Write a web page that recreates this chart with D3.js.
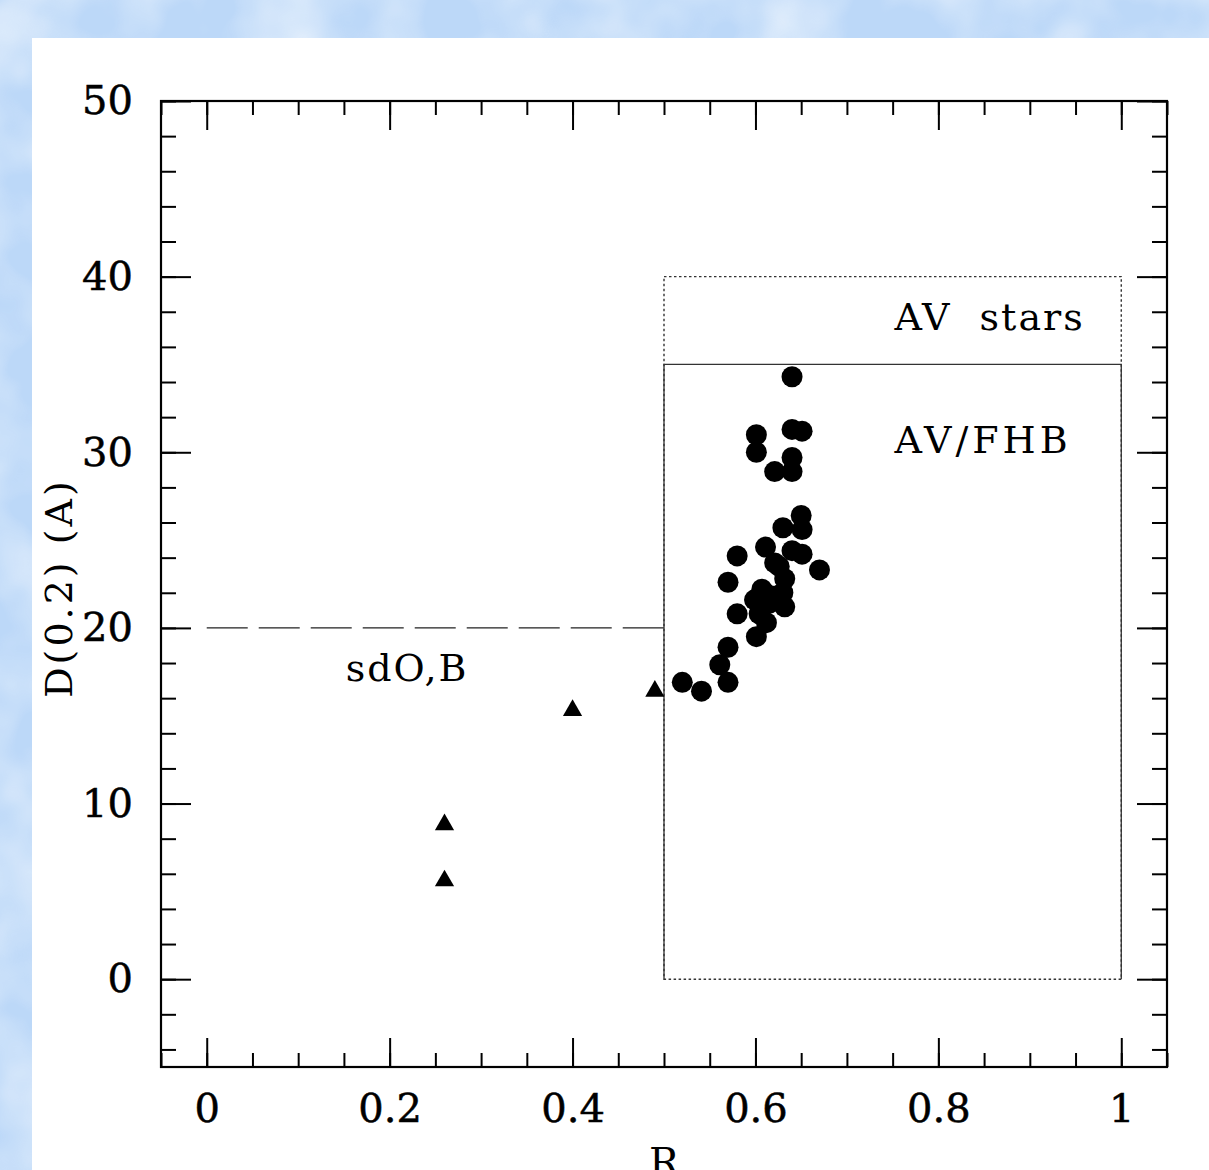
<!DOCTYPE html>
<html>
<head>
<meta charset="utf-8">
<script src="https://cdn.jsdelivr.net/npm/d3@7"></script>
<style>
  body { margin: 0; }
  svg { display: block; }
</style>
</head>
<body>
<div id="content"></div>
<script>
// Data: AV/FHB stars (filled circles).
var circleR = [0.640, 0.601, 0.601, 0.640, 0.651, 0.640, 0.621, 0.640,
               0.650, 0.651, 0.630, 0.580, 0.611, 0.640, 0.651, 0.670,
               0.621, 0.626, 0.632, 0.570, 0.607, 0.630, 0.599, 0.615,
               0.632, 0.580, 0.604, 0.612, 0.601, 0.570, 0.561, 0.570,
               0.520, 0.541, 0.620, 0.610];
var circleD = [34.3, 31.0, 30.0, 31.3, 31.2, 29.7, 28.9, 28.9,
               26.4, 25.6, 25.7, 24.1, 24.6, 24.4, 24.2, 23.3,
               23.7, 23.5, 22.8, 22.6, 22.2, 22.0, 21.6, 21.4,
               21.2, 20.8, 20.8, 20.3, 19.5, 18.9, 17.9, 16.9,
               16.9, 16.4, 21.8, 22.0];

// sdO,B stars (filled triangles).
var triR = [0.26, 0.26, 0.40, 0.49];
var triD = [8.8, 5.6, 15.3, 16.4];

// Axis ticks.
var xTicks = [0, 0.2, 0.4, 0.6, 0.8, 1];
var yTicks = [0, 10, 20, 30, 40, 50];
var xMinor = d3.range(-0.05, 1.0501, 0.05);
var yMinor = d3.range(-4, 50.01, 2);

var W = 1209, H = 1170;
var font = '"DejaVu Serif", serif';

var svg = d3.select('#content').append('svg')
    .attr('width', W).attr('height', H);

// Cloudy light-blue page background.
var defs = svg.append('defs');
var f = defs.append('filter').attr('id', 'clouds')
    .attr('x', 0).attr('y', 0).attr('width', '100%').attr('height', '100%');
f.append('feTurbulence').attr('type', 'fractalNoise')
    .attr('baseFrequency', 0.012).attr('numOctaves', 3).attr('seed', 4);
f.append('feColorMatrix').attr('type', 'matrix')
    .attr('values', '0 0 0 0 1  0 0 0 0 1  0 0 0 0 1  1.3 0 0 0 -0.45');

svg.append('rect').attr('width', W).attr('height', H).attr('fill', '#bcd8f8');
svg.append('rect').attr('width', W).attr('height', H)
    .attr('filter', 'url(#clouds)').attr('opacity', 0.8);

// White panel.
svg.append('rect').attr('x', 32).attr('y', 38)
    .attr('width', W - 32).attr('height', H - 38).attr('fill', '#fff');

// Scales.
var x = d3.scaleLinear().domain([-0.05, 1.05]).range([161, 1167]);
var y = d3.scaleLinear().domain([-5, 50]).range([1067, 101]);

var g = svg.append('g');

// Region boxes.
g.append('rect')
    .attr('x', x(0.5)).attr('y', y(40))
    .attr('width', x(1) - x(0.5)).attr('height', y(0) - y(40))
    .attr('fill', 'none').attr('stroke', '#333')
    .attr('stroke-width', 1.4).attr('stroke-dasharray', '2.5,2.5');
g.append('path')
    .attr('d', d3.line()([[x(0.5), y(0)], [x(0.5), y(35)], [x(1), y(35)], [x(1), y(0)]]))
    .attr('fill', 'none').attr('stroke', '#333').attr('stroke-width', 1.3);

// Dashed divider at D = 20.
g.append('line')
    .attr('x1', x(0)).attr('x2', x(0.5))
    .attr('y1', y(20)).attr('y2', y(20))
    .attr('stroke', '#222').attr('stroke-width', 1.3)
    .attr('stroke-dasharray', '41,11');

// Points.
g.selectAll('circle.av')
    .data(d3.range(circleR.length))
    .enter().append('circle')
    .attr('class', 'av')
    .attr('cx', function(i) { return x(circleR[i]); })
    .attr('cy', function(i) { return y(circleD[i]); })
    .attr('r', 10.5)
    .attr('fill', '#000');

g.selectAll('path.sd')
    .data(d3.range(triR.length))
    .enter().append('path')
    .attr('class', 'sd')
    .attr('d', d3.symbol(d3.symbolTriangle, 160))
    .attr('transform', function(i) {
      return 'translate(' + x(triR[i]) + ',' + y(triD[i]) + ')';
    })
    .attr('fill', '#000');

// Axes: ticks point inward on all four sides.
function styleAxis(sel) {
  sel.select('.domain').remove();
  sel.selectAll('line').attr('stroke', '#000').attr('stroke-width', 2);
  sel.selectAll('text').attr('font-family', font).attr('font-size', 40)
      .attr('fill', '#000').attr('stroke', '#000').attr('stroke-width', 0.5);
}

g.append('g').attr('transform', 'translate(0,1067)')
    .call(d3.axisBottom(x).tickValues(xMinor).tickSize(-14).tickFormat(''))
    .call(styleAxis);
g.append('g').attr('transform', 'translate(0,1067)')
    .call(d3.axisBottom(x).tickValues(xTicks).tickSize(-29).tickPadding(27)
          .tickFormat(function(d) { return d3.format('')(+d.toFixed(1)); }))
    .call(styleAxis);
g.append('g').attr('transform', 'translate(0,101)')
    .call(d3.axisTop(x).tickValues(xMinor).tickSize(-14).tickFormat(''))
    .call(styleAxis);
g.append('g').attr('transform', 'translate(0,101)')
    .call(d3.axisTop(x).tickValues(xTicks).tickSize(-29).tickFormat(''))
    .call(styleAxis);

g.append('g').attr('transform', 'translate(161,0)')
    .call(d3.axisLeft(y).tickValues(yMinor).tickSize(-15).tickFormat(''))
    .call(styleAxis);
g.append('g').attr('transform', 'translate(161,0)')
    .call(d3.axisLeft(y).tickValues(yTicks).tickSize(-30).tickPadding(28))
    .call(styleAxis);
g.append('g').attr('transform', 'translate(1167,0)')
    .call(d3.axisRight(y).tickValues(yMinor).tickSize(-15).tickFormat(''))
    .call(styleAxis);
g.append('g').attr('transform', 'translate(1167,0)')
    .call(d3.axisRight(y).tickValues(yTicks).tickSize(-30).tickFormat(''))
    .call(styleAxis);

// Frame.
g.append('rect')
    .attr('x', 161).attr('y', 101)
    .attr('width', 1167 - 161).attr('height', 1067 - 101)
    .attr('fill', 'none').attr('stroke', '#000').attr('stroke-width', 2.2);

// Axis titles.
g.append('text')
    .attr('x', (161 + 1167) / 2).attr('y', 1176)
    .attr('text-anchor', 'middle')
    .attr('font-family', font).attr('font-size', 40)
    .text('R');
g.append('text')
    .attr('transform', 'translate(72,588) rotate(-90)')
    .attr('text-anchor', 'middle')
    .attr('font-family', font).attr('font-size', 38)
    .attr('letter-spacing', 3)
    .text('D(0.2) (A)');

// Region labels.
var labels = g.append('g')
    .attr('font-family', font).attr('font-size', 38).attr('fill', '#000');
labels.append('text').attr('x', x(0.752)).attr('y', y(36.95))
    .attr('letter-spacing', 2).attr('xml:space', 'preserve').text('AV  stars');
labels.append('text').attr('x', x(0.752)).attr('y', y(29.95))
    .attr('letter-spacing', 4).text('AV/FHB');
labels.append('text').attr('x', x(0.152)).attr('y', y(16.97))
    .attr('letter-spacing', 2).text('sdO,B');
</script>
</body>
</html>
